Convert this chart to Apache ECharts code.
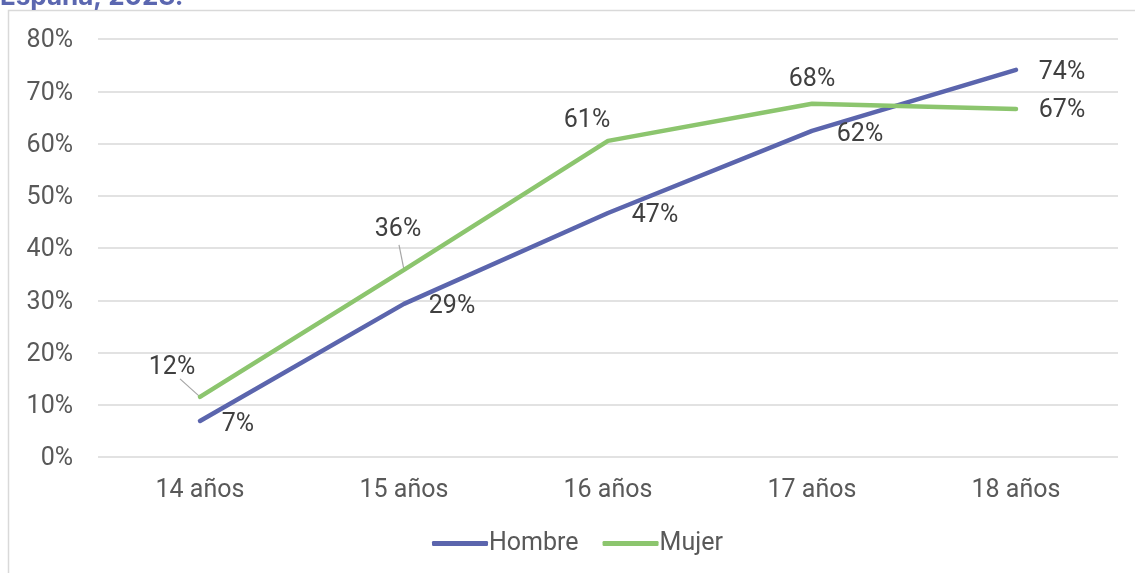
<!DOCTYPE html>
<html>
<head>
<meta charset="utf-8">
<script src="https://cdn.jsdelivr.net/npm/echarts@6/dist/echarts.min.js"></script>
<style>
  html, body { margin: 0; padding: 0; background: #fff; }
  #chart { width: 1135px; height: 573px; }
</style>
</head>
<body>
<div id="chart"></div>
<script>
var categories = ['14 años', '15 años', '16 años', '17 años', '18 años'];
var hombre = [6.9, 29.3, 46.7, 62.4, 74.1];
var mujer = [11.5, 35.8, 60.5, 67.6, 66.6];

// label offsets per point (dx, dy from the point)
var hombreOffsets = [[38, 4], [48, 3], [47, 3], [48, 4], [46, 3]];
var mujerOffsets = [[-28, -29], [-6, -40], [-21, -20], [0, -24], [46, 2]];
// leader line ends, relative to the label centre
var mujerLeader = { 0: [8, 11], 1: [1, 15] };

var font = 'Roboto, "Noto Sans", sans-serif';

function pct(p) { return Math.round(p.value) + '%'; }

var myChart = echarts.init(document.getElementById('chart'));
var option = {
    animation: false,
    textStyle: { fontFamily: font },
    graphic: [
        {
            type: 'rect',
            shape: { x: 8.5, y: 10.5, width: 1200, height: 700 },
            style: { fill: 'none', stroke: '#d9d9d9', lineWidth: 1.5 },
            silent: true
        },
        {
            type: 'text',
            left: 0,
            top: -16,
            style: {
                text: 'España, 2023.',
                fill: '#5b67b0',
                font: 'bold 26px Inter, sans-serif'
            }
        }
    ],
    grid: { left: 98, right: 17, top: 39, bottom: 116 },
    legend: {
        bottom: 12,
        left: 427,
        itemWidth: 56,
        itemHeight: 5,
        itemGap: 24,
        icon: 'roundRect',
        textStyle: { fontSize: 25, color: '#595959', padding: [0, 0, 0, -4] },
        data: ['Hombre', 'Mujer']
    },
    xAxis: {
        type: 'category',
        data: categories,
        boundaryGap: true,
        axisLine: { show: false },
        axisTick: { show: false },
        axisLabel: { fontSize: 25, color: '#595959', margin: 21 }
    },
    yAxis: {
        type: 'value',
        min: 0,
        max: 80,
        interval: 10,
        axisLabel: {
            formatter: '{a|{value}%}',
            margin: 25,
            rich: { a: { fontSize: 25, color: '#595959', padding: [4, 0, 0, 0] } }
        },
        splitLine: { lineStyle: { color: '#d9d9d9', width: 1.5 } },
        axisLine: { show: false },
        axisTick: { show: false }
    },
    series: [
        {
            name: 'Hombre',
            type: 'line',
            data: hombre,
            symbol: 'circle',
            symbolSize: 0,
            showSymbol: true,
            lineStyle: { color: '#5b65ad', width: 4.5, cap: 'round' },
            itemStyle: { color: '#5b65ad' },
            label: {
                show: true,
                position: 'inside',
                fontSize: 25,
                color: '#404040',
                formatter: pct
            },
            labelLayout: function (p) {
                return { dx: hombreOffsets[p.dataIndex][0], dy: hombreOffsets[p.dataIndex][1] };
            }
        },
        {
            name: 'Mujer',
            type: 'line',
            data: mujer,
            symbol: 'circle',
            symbolSize: 0,
            showSymbol: true,
            lineStyle: { color: '#8cc56e', width: 4.5, cap: 'round' },
            itemStyle: { color: '#8cc56e' },
            label: {
                show: true,
                position: 'inside',
                fontSize: 25,
                color: '#404040',
                formatter: pct
            },
            labelLayout: function (p) {
                return { dx: mujerOffsets[p.dataIndex][0], dy: mujerOffsets[p.dataIndex][1] };
            }
        }
    ]
};
myChart.setOption(option);

// leader lines for the displaced Mujer labels, placed through the chart's scales
var leaders = [];
Object.keys(mujerLeader).forEach(function (k) {
    var i = +k;
    var pt = myChart.convertToPixel({ seriesIndex: 1 }, [i, mujer[i]]);
    var end = [pt[0] + mujerOffsets[i][0] + mujerLeader[k][0], pt[1] + mujerOffsets[i][1] + mujerLeader[k][1]];
    leaders.push({
        type: 'line',
        shape: { x1: end[0], y1: end[1], x2: pt[0], y2: pt[1] },
        style: { stroke: '#a6a6a6', lineWidth: 1.2 },
        z: 1,
        silent: true
    });
});
myChart.setOption({ graphic: option.graphic.concat(leaders) });
</script>
</body>
</html>
